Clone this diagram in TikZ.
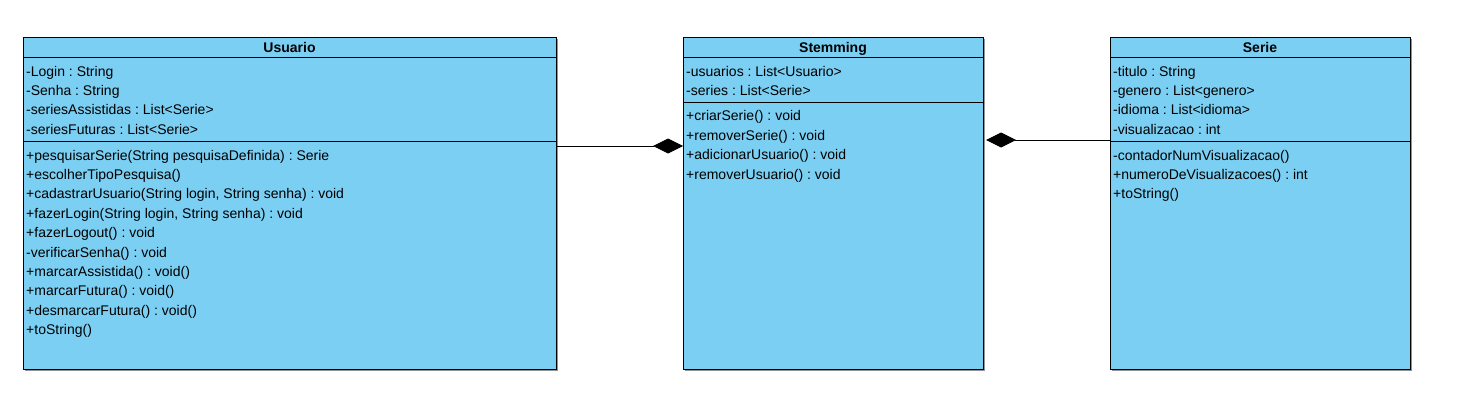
\documentclass[tikz,border=0pt]{standalone}
\usepackage{fontspec}
\setmainfont{Liberation Sans}
\frenchspacing
\usetikzlibrary{arrows.meta,calc,shadows}
\definecolor{classfill}{RGB}{122,207,243}
\definecolor{shadowgray}{RGB}{120,120,120}
\tikzset{
  classbox/.style={draw=black, line width=1pt, fill=classfill, anchor=north west, inner sep=0pt,
    drop shadow={shadow xshift=1.2pt, shadow yshift=-1.2pt, fill=shadowgray, opacity=0.8}},
  sepline/.style={line width=1pt},
  member/.style={anchor=base west, inner sep=0pt, font=\fontsize{14}{16}\selectfont},
  ctitle/.style={anchor=base, inner sep=0pt, font=\fontsize{14}{16}\selectfont\bfseries},
  comp/.style={line width=1pt, -{Diamond[length=30pt,width=15pt,fill=black]}}
}
\begin{document}
\begin{tikzpicture}[x=1pt,y=-1pt]
\useasboundingbox (0,0) rectangle (1463,404);
% boxes
\node[classbox, minimum width=533pt, minimum height=332pt] (usuario) at (23,37) {};
\node[classbox, minimum width=300pt, minimum height=332pt] (stemming) at (683,37) {};
\node[classbox, minimum width=300pt, minimum height=332pt] (serie) at (1110,37) {};
% separators
\draw[sepline] ($(usuario.north west)+(0,21)$) -- ($(usuario.north east)+(0,21)$);
\draw[sepline] ($(usuario.north west)+(0,104)$) -- ($(usuario.north east)+(0,104)$);
\draw[sepline] ($(stemming.north west)+(0,21)$) -- ($(stemming.north east)+(0,21)$);
\draw[sepline] ($(stemming.north west)+(0,65)$) -- ($(stemming.north east)+(0,65)$);
\draw[sepline] ($(serie.north west)+(0,21)$) -- ($(serie.north east)+(0,21)$);
\draw[sepline] ($(serie.north west)+(0,104)$) -- ($(serie.north east)+(0,104)$);
% titles
\node[ctitle] (usuario-t) at (289.5,52.8) {Usuario};
\node[ctitle] (stemming-t) at (833,52.8) {Stemming};
\node[ctitle] (serie-t) at (1260,52.8) {Serie};
% Usuario members
\node[member] (u-a1) at (26,76) {-Login : String};
\node[member] (u-a2) at (26,95.4) {-Senha : String};
\node[member] (u-a3) at (26,114.8) {-seriesAssistidas : List<Serie>};
\node[member] (u-a4) at (26,134.2) {-seriesFuturas : List<Serie>};
\node[member] (u-m1) at (26,160) {+pesquisarSerie(String pesquisaDefinida) : Serie};
\node[member] (u-m2) at (26,179.4) {+escolherTipoPesquisa()};
\node[member] (u-m3) at (26,198.8) {+cadastrarUsuario(String login, String senha) : void};
\node[member] (u-m4) at (26,218.2) {+fazerLogin(String login, String senha) : void};
\node[member] (u-m5) at (26,237.6) {+fazerLogout() : void};
\node[member] (u-m6) at (26,257) {-verificarSenha() : void};
\node[member] (u-m7) at (26,276.4) {+marcarAssistida() : void()};
\node[member] (u-m8) at (26,295.8) {+marcarFutura() : void()};
\node[member] (u-m9) at (26,315.2) {+desmarcarFutura() : void()};
\node[member] (u-m10) at (26,334.6) {+toString()};
% Stemming members
\node[member] (s-a1) at (686,76) {-usuarios : List<Usuario>};
\node[member] (s-a2) at (686,95.4) {-series : List<Serie>};
\node[member] (s-m1) at (686,120.8) {+criarSerie() : void};
\node[member] (s-m2) at (686,140.2) {+removerSerie() : void};
\node[member] (s-m3) at (686,159.6) {+adicionarUsuario() : void};
\node[member] (s-m4) at (686,179) {+removerUsuario() : void};
% Serie members
\node[member] (r-a1) at (1113,76) {-titulo : String};
\node[member] (r-a2) at (1113,95.4) {-genero : List<genero>};
\node[member] (r-a3) at (1113,114.8) {-idioma : List<idioma>};
\node[member] (r-a4) at (1113,134.2) {-visualizacao : int};
\node[member] (r-m1) at (1113,160) {-contadorNumVisualizacao()};
\node[member] (r-m2) at (1113,179.4) {+numeroDeVisualizacoes() : int};
\node[member] (r-m3) at (1113,198.8) {+toString()};
% connectors
\draw[comp] ($(usuario.north east)+(0,109)$) -- ($(stemming.north west)+(0,109)$);
\draw[comp, shorten >=2pt] ($(serie.north west)+(0,103)$) -- ($(stemming.north east)+(0,103)$);
\end{tikzpicture}
\end{document}
